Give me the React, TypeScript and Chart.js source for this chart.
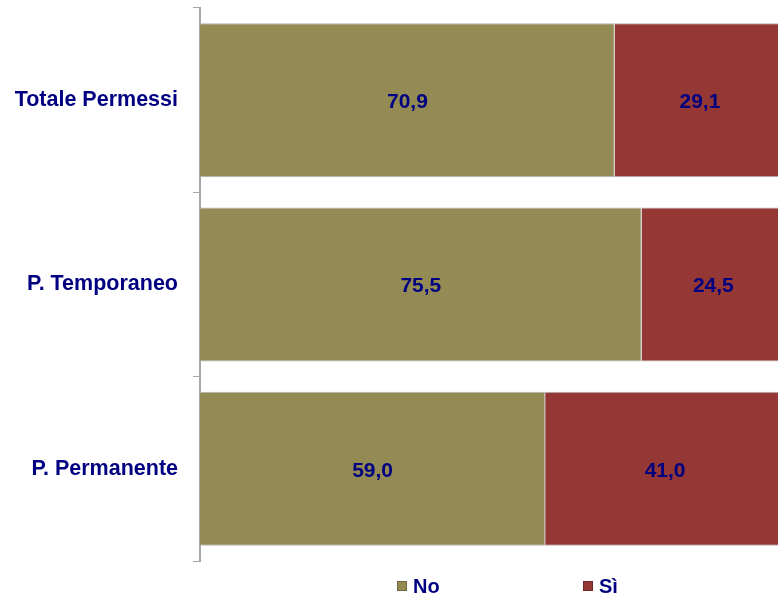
import React, { useEffect, useRef } from "react";
import { Chart, registerables } from "chart.js";

Chart.register(...registerables);

const categories = ["Totale Permessi", "P. Temporaneo", "P. Permanente"];
const noValues = [70.9, 75.5, 59.0];
const siValues = [29.1, 24.5, 41.0];
const seriesNames = ["No", "Sì"];
const seriesColors = ["#948A54", "#953735"];

const FONT = "'Liberation Sans', Arial, sans-serif";
const NAVY = "#000080";

const fmt = (v: number) => v.toFixed(1).replace(".", ",");

const valueLabels = {
  id: "valueLabels",
  afterDatasetsDraw(chart: any) {
    const ctx = chart.ctx;
    ctx.save();
    ctx.font = `bold 21px ${FONT}`;
    ctx.fillStyle = NAVY;
    ctx.textAlign = "center";
    ctx.textBaseline = "middle";
    chart.data.datasets.forEach((ds: any, di: number) => {
      const meta = chart.getDatasetMeta(di);
      meta.data.forEach((bar: any, i: number) => {
        const p = bar.getProps(["x", "y", "base"], true);
        const cx = (p.base + p.x) / 2;
        ctx.fillText(fmt(ds.data[i]), cx, p.y + 2);
      });
    });
    ctx.restore();
  },
};

const customLegend = {
  id: "customLegend",
  afterDraw(chart: any) {
    const ctx = chart.ctx;
    const y = chart.chartArea.bottom + 25;
    const xs = [397, 583];
    ctx.save();
    ctx.font = `bold 20px ${FONT}`;
    ctx.textBaseline = "middle";
    ctx.textAlign = "left";
    seriesNames.forEach((name, i) => {
      ctx.fillStyle = seriesColors[i];
      ctx.fillRect(xs[i], y - 5, 10, 10);
      ctx.strokeStyle = "rgba(0,0,0,0.25)";
      ctx.lineWidth = 1;
      ctx.strokeRect(xs[i] + 0.5, y - 4.5, 9, 9);
      ctx.fillStyle = NAVY;
      ctx.fillText(name, xs[i] + 16, y + 1);
    });
    ctx.restore();
  },
};

export default function App() {
  const ref = useRef<HTMLCanvasElement>(null);
  useEffect(() => {
    if (!ref.current) return;
    const chart = new Chart(ref.current, {
      type: "bar",
      data: {
        labels: categories,
        datasets: [
          {
            label: seriesNames[0],
            data: noValues,
            backgroundColor: seriesColors[0],
            borderColor: "#b4b4b4",
            borderWidth: 1,
            barPercentage: 0.835,
            categoryPercentage: 1,
          },
          {
            label: seriesNames[1],
            data: siValues,
            backgroundColor: seriesColors[1],
            borderColor: "#b4b4b4",
            borderWidth: 1,
            barPercentage: 0.835,
            categoryPercentage: 1,
          },
        ],
      },
      options: {
        indexAxis: "y",
        animation: false,
        responsive: false,
        layout: { padding: { top: 8, bottom: 33, left: 0, right: 0 } },
        plugins: {
          legend: { display: false },
          tooltip: { enabled: false },
        },
        scales: {
          x: {
            stacked: true,
            display: false,
            min: 0,
            max: 98.8,
          },
          y: {
            stacked: true,
            afterFit: (scale: any) => {
              scale.width = 200;
              scale.paddingTop = 0;
              scale.paddingBottom = 0;
            },
            grid: {
              display: true,
              drawOnChartArea: false,
              drawTicks: true,
              tickLength: 7,
              color: "#a6a6a6",
              offset: true,
            },
            border: { display: true, color: "#a6a6a6", width: 2 },
            ticks: {
              color: NAVY,
              padding: 15,
              font: { family: FONT, size: 21.5, weight: "bold" },
            },
          },
        },
      },
      plugins: [valueLabels, customLegend],
    });
    return () => chart.destroy();
  }, []);
  return (
    <div style={{ position: "absolute", left: 0, top: 0, width: 778, height: 594, background: "#fff" }}>
      <canvas ref={ref} width={778} height={594} style={{ display: "block" }} />
    </div>
  );
}
